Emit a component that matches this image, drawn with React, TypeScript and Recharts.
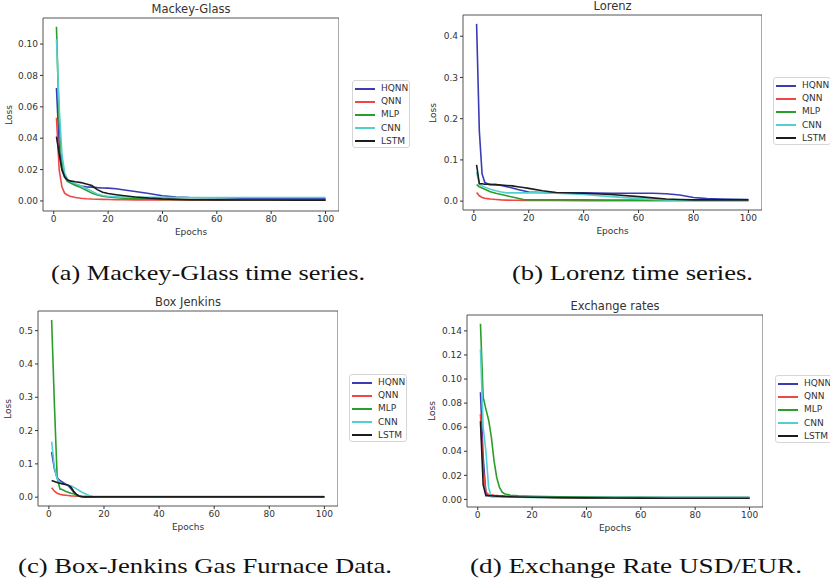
import React from 'react';
import { LineChart, Line, XAxis, YAxis, ReferenceArea } from 'recharts';

// ---------- Data ----------
const seriesNames = ['HQNN', 'QNN', 'MLP', 'CNN', 'LSTM'];
const seriesColors = ['#3b3bb3', '#f04646', '#2a9e2a', '#52d0d0', '#1c1c1c'];
const xTicks = [0, 20, 40, 60, 80, 100];

// (a) Mackey-Glass
const mgEpochs = [1, 2, 3, 4, 5, 6, 8, 10, 12, 14, 16, 18, 20, 23, 26, 30, 35, 40, 45, 50, 60, 70, 80, 90, 100];
const mgHQNN = [0.072, 0.035, 0.02, 0.015, 0.013, 0.012, 0.0105, 0.0095, 0.009, 0.0088, 0.0085, 0.0083, 0.0082, 0.0078, 0.007, 0.006, 0.0048, 0.0033, 0.0025, 0.0022, 0.002, 0.0018, 0.0017, 0.0016, 0.0015];
const mgQNN = [0.053, 0.02, 0.009, 0.005, 0.0038, 0.003, 0.0022, 0.0017, 0.0014, 0.0012, 0.0011, 0.001, 0.0009, 0.0008, 0.0008, 0.0007, 0.0007, 0.0006, 0.0006, 0.0005, 0.0005, 0.0005, 0.0005, 0.0005, 0.0005];
const mgMLP = [0.111, 0.05, 0.025, 0.016, 0.0125, 0.0115, 0.0098, 0.0085, 0.0068, 0.005, 0.0038, 0.003, 0.0025, 0.002, 0.0017, 0.0015, 0.0012, 0.001, 0.001, 0.0009, 0.0009, 0.0008, 0.0008, 0.0008, 0.0008];
const mgCNN = [0.103, 0.06, 0.03, 0.018, 0.014, 0.0125, 0.011, 0.0095, 0.008, 0.0062, 0.0045, 0.0035, 0.003, 0.0027, 0.0025, 0.0024, 0.0023, 0.0023, 0.0022, 0.0022, 0.0022, 0.0022, 0.0022, 0.0022, 0.0022];
const mgLSTM = [0.041, 0.03, 0.02, 0.0155, 0.0135, 0.0128, 0.0122, 0.0117, 0.0108, 0.0098, 0.0072, 0.0055, 0.0047, 0.004, 0.0033, 0.0025, 0.0018, 0.0013, 0.001, 0.0008, 0.0007, 0.0006, 0.0006, 0.0005, 0.0005];
const mgYTicks = [0, 0.02, 0.04, 0.06, 0.08, 0.1];

// (b) Lorenz
const lzEpochs = [1, 2, 3, 4, 5, 6, 8, 10, 12, 14, 16, 18, 20, 25, 30, 40, 50, 60, 65, 70, 75, 80, 85, 90, 100];
const lzHQNN = [0.43, 0.17, 0.066, 0.045, 0.042, 0.041, 0.04, 0.038, 0.035, 0.032, 0.028, 0.025, 0.022, 0.021, 0.02, 0.02, 0.019, 0.019, 0.019, 0.018, 0.015, 0.009, 0.006, 0.005, 0.004];
const lzQNN = [0.021, 0.013, 0.009, 0.007, 0.006, 0.005, 0.004, 0.003, 0.0025, 0.002, 0.002, 0.0018, 0.0017, 0.0015, 0.0014, 0.0013, 0.0012, 0.0012, 0.0011, 0.0011, 0.0011, 0.001, 0.001, 0.001, 0.001];
const lzMLP = [0.04, 0.035, 0.032, 0.029, 0.026, 0.023, 0.019, 0.016, 0.013, 0.01, 0.007, 0.004, 0.003, 0.003, 0.003, 0.003, 0.0025, 0.0025, 0.0022, 0.0022, 0.002, 0.002, 0.002, 0.002, 0.002];
const lzCNN = [0.07, 0.042, 0.037, 0.034, 0.031, 0.029, 0.025, 0.022, 0.02, 0.02, 0.02, 0.02, 0.02, 0.02, 0.019, 0.016, 0.011, 0.006, 0.004, 0.003, 0.003, 0.003, 0.003, 0.003, 0.003];
const lzLSTM = [0.088, 0.042, 0.042, 0.041, 0.041, 0.04, 0.04, 0.039, 0.038, 0.037, 0.035, 0.033, 0.031, 0.025, 0.021, 0.019, 0.016, 0.011, 0.008, 0.005, 0.004, 0.003, 0.003, 0.003, 0.003];
const lzYTicks = [0, 0.1, 0.2, 0.3, 0.4];

// (c) Box Jenkins
const bjEpochs = [1, 2, 3, 4, 5, 6, 7, 8, 9, 10, 11, 12, 13, 14, 15, 16, 17, 18, 20, 30, 40, 50, 60, 80, 100];
const bjHQNN = [0.135, 0.085, 0.058, 0.05, 0.045, 0.04, 0.035, 0.025, 0.015, 0.008, 0.004, 0.002, 0.0015, 0.0012, 0.001, 0.001, 0.001, 0.001, 0.001, 0.001, 0.001, 0.001, 0.001, 0.001, 0.001];
const bjQNN = [0.028, 0.018, 0.012, 0.009, 0.007, 0.006, 0.005, 0.004, 0.0035, 0.003, 0.0028, 0.0026, 0.0025, 0.0024, 0.0023, 0.0022, 0.0022, 0.0022, 0.0022, 0.0022, 0.002, 0.002, 0.002, 0.002, 0.002];
const bjMLP = [0.532, 0.28, 0.06, 0.025, 0.022, 0.018, 0.015, 0.012, 0.01, 0.006, 0.003, 0.0015, 0.001, 0.001, 0.001, 0.001, 0.001, 0.001, 0.001, 0.001, 0.001, 0.001, 0.001, 0.001, 0.001];
const bjCNN = [0.167, 0.09, 0.055, 0.045, 0.04, 0.038, 0.036, 0.034, 0.03, 0.025, 0.02, 0.015, 0.011, 0.007, 0.004, 0.002, 0.0015, 0.001, 0.001, 0.001, 0.001, 0.001, 0.001, 0.001, 0.001];
const bjLSTM = [0.05, 0.047, 0.044, 0.042, 0.04, 0.038, 0.036, 0.03, 0.018, 0.008, 0.003, 0.0015, 0.001, 0.001, 0.001, 0.001, 0.001, 0.001, 0.001, 0.001, 0.001, 0.001, 0.001, 0.001, 0.001];
const bjYTicks = [0, 0.1, 0.2, 0.3, 0.4, 0.5];

// (d) Exchange rates
const exEpochs = [1, 2, 3, 4, 5, 6, 7, 8, 9, 10, 12, 15, 20, 30, 40, 50, 60, 70, 80, 90, 100];
const exHQNN = [0.089, 0.035, 0.005, 0.003, 0.003, 0.0028, 0.0026, 0.0025, 0.0024, 0.0023, 0.0022, 0.0021, 0.002, 0.0018, 0.0017, 0.0016, 0.0016, 0.0015, 0.0015, 0.0015, 0.0015];
const exQNN = [0.071, 0.025, 0.006, 0.004, 0.0038, 0.0035, 0.0033, 0.003, 0.003, 0.0028, 0.0025, 0.0022, 0.002, 0.0015, 0.0013, 0.0012, 0.0012, 0.0011, 0.0011, 0.001, 0.001];
const exMLP = [0.146, 0.085, 0.075, 0.066, 0.052, 0.032, 0.018, 0.01, 0.006, 0.0045, 0.0035, 0.003, 0.0026, 0.0022, 0.002, 0.0018, 0.0017, 0.0016, 0.0015, 0.0015, 0.0015];
const exCNN = [0.125, 0.06, 0.04, 0.01, 0.002, 0.002, 0.002, 0.002, 0.002, 0.002, 0.0019, 0.0018, 0.0017, 0.0016, 0.0016, 0.0015, 0.0015, 0.0015, 0.0015, 0.0015, 0.0015];
const exLSTM = [0.065, 0.012, 0.003, 0.003, 0.003, 0.0028, 0.0027, 0.0026, 0.0025, 0.0024, 0.0022, 0.002, 0.0018, 0.0015, 0.0013, 0.0012, 0.0011, 0.001, 0.001, 0.001, 0.001];
const exYTicks = [0, 0.02, 0.04, 0.06, 0.08, 0.1, 0.12, 0.14];

// ---------- Helpers ----------
function buildRows(epochs: number[], series: number[][]) {
  return epochs.map((e, i) => {
    const row: Record<string, number> = { epoch: e };
    seriesNames.forEach((n, k) => {
      row[n] = series[k][i];
    });
    return row;
  });
}

const SANS = '"DejaVu Sans", sans-serif';
const SERIF = '"Liberation Serif", "DejaVu Serif", serif';
const TXT = '#333';

const panels = [
  {
    title: 'Mackey-Glass',
    rows: buildRows(mgEpochs, [mgHQNN, mgQNN, mgMLP, mgCNN, mgLSTM]),
    yTicks: mgYTicks, dec: 2,
    xDomain: [-3.95, 104.95], yDomain: [-0.0064, 0.1166],
    L: 43, T: 18, R: 339, B: 211,
    lossX: 9, legX: 352, legY: 80,
    caption: '(a) Mackey-Glass time series.', capX: 51, capW: 314, capBase: 280,
  },
  {
    title: 'Lorenz',
    rows: buildRows(lzEpochs, [lzHQNN, lzQNN, lzMLP, lzCNN, lzLSTM]),
    yTicks: lzYTicks, dec: 1,
    xDomain: [-3.95, 104.95], yDomain: [-0.0215, 0.4515],
    L: 463, T: 15, R: 762, B: 210,
    lossX: 433, legX: 773, legY: 77,
    caption: '(b) Lorenz time series.', capX: 512, capW: 241, capBase: 280,
  },
  {
    title: 'Box Jenkins',
    rows: buildRows(bjEpochs, [bjHQNN, bjQNN, bjMLP, bjCNN, bjLSTM]),
    yTicks: bjYTicks, dec: 1,
    xDomain: [-3.95, 104.95], yDomain: [-0.0265, 0.559],
    L: 38, T: 311, R: 338, B: 506,
    lossX: 8, legX: 349, legY: 374,
    caption: '(c) Box-Jenkins Gas Furnace Data.', capX: 18, capW: 374, capBase: 573,
  },
  {
    title: 'Exchange rates',
    rows: buildRows(exEpochs, [exHQNN, exQNN, exMLP, exCNN, exLSTM]),
    yTicks: exYTicks, dec: 2,
    xDomain: [-3.95, 104.95], yDomain: [-0.0063, 0.1532],
    L: 467, T: 315, R: 763, B: 507,
    lossX: 432, legX: 775, legY: 375,
    caption: '(d) Exchange Rate USD/EUR.', capX: 470, capW: 332, capBase: 573,
  },
];

const YW = 40;
const MT = 4;
const XH = 30;

function Panel({ p }: { p: (typeof panels)[number] }) {
  const pw = p.R - p.L;
  const ph = p.B - p.T;
  const tickStyle = { fontSize: 9, fill: TXT, fontFamily: SANS };
  return (
    <>
      <div style={{ position: 'absolute', left: p.L - YW, top: p.T - MT }}>
        <LineChart
          width={pw + YW}
          height={ph + MT + XH}
          data={p.rows}
          margin={{ top: MT, right: 0, left: 0, bottom: 0 }}
        >
          <XAxis
            type="number"
            dataKey="epoch"
            domain={p.xDomain}
            allowDataOverflow
            ticks={xTicks}
            interval={0}
            tickSize={3}
            tickMargin={2}
            axisLine={false}
            tickLine={{ stroke: TXT }}
            tick={tickStyle}
            height={XH}
          />
          <YAxis
            type="number"
            domain={p.yDomain}
            allowDataOverflow
            ticks={p.yTicks}
            interval={0}
            tickFormatter={(v: number) => v.toFixed(p.dec)}
            tickSize={3}
            tickMargin={2}
            axisLine={false}
            tickLine={{ stroke: TXT }}
            tick={tickStyle}
            width={YW}
          />
          {seriesNames.map((n, k) => (
            <Line
              key={n}
              type="linear"
              dataKey={n}
              stroke={seriesColors[k]}
              strokeWidth={1.6}
              dot={false}
              isAnimationActive={false}
            />
          ))}
          <ReferenceArea
            x1={p.xDomain[0]}
            x2={p.xDomain[1]}
            y1={p.yDomain[0]}
            y2={p.yDomain[1]}
            fill="none"
            fillOpacity={0}
            stroke="#555"
            strokeWidth={1}
            ifOverflow="visible"
          />
        </LineChart>
      </div>
      {/* title */}
      <div
        style={{
          position: 'absolute', left: p.L, width: pw, top: p.T - 16,
          textAlign: 'center', fontFamily: SANS, fontSize: 11.5, color: TXT, lineHeight: '14px',
        }}
      >
        {p.title}
      </div>
      {/* x label */}
      <div
        style={{
          position: 'absolute', left: p.L, width: pw, top: p.B + 16,
          textAlign: 'center', fontFamily: SANS, fontSize: 9, color: TXT, lineHeight: '11px',
        }}
      >
        Epochs
      </div>
      {/* y label */}
      <div
        style={{
          position: 'absolute', left: p.lossX, top: (p.T + p.B) / 2,
          transform: 'translate(-50%, -50%) rotate(-90deg)',
          fontFamily: SANS, fontSize: 9, color: TXT, lineHeight: '11px', whiteSpace: 'nowrap',
        }}
      >
        Loss
      </div>
      {/* legend */}
      <div
        style={{
          position: 'absolute', left: p.legX, top: p.legY, width: 58, height: 68,
          border: '1px solid #d6d6d6', borderRadius: 3, background: '#fff', boxSizing: 'border-box',
          padding: '1px 0 0 0',
        }}
      >
        {seriesNames.map((n, k) => (
          <div key={n} style={{ display: 'flex', alignItems: 'center', height: 13.2 }}>
            <div style={{ marginLeft: 2, width: 20, height: 2, background: seriesColors[k] }} />
            <div style={{ marginLeft: 6, fontFamily: SANS, fontSize: 9, color: TXT, lineHeight: '13px' }}>{n}</div>
          </div>
        ))}
      </div>
    </>
  );
}

export default function App() {
  return (
    <div
      style={{
        position: 'absolute', left: 0, top: 0, width: 830, height: 586,
        overflow: 'hidden', background: '#fff',
      }}
    >
      {panels.map((p) => (
        <Panel key={p.title} p={p} />
      ))}
      <svg
        width={830}
        height={586}
        style={{ position: 'absolute', left: 0, top: 0, pointerEvents: 'none' }}
      >
        {panels.map((p) => (
          <text
            key={p.caption}
            x={p.capX}
            y={p.capBase}
            textLength={p.capW}
            lengthAdjust="spacingAndGlyphs"
            fontFamily={SERIF}
            fontSize={22}
            fill="#111"
          >
            {p.caption}
          </text>
        ))}
      </svg>
    </div>
  );
}
